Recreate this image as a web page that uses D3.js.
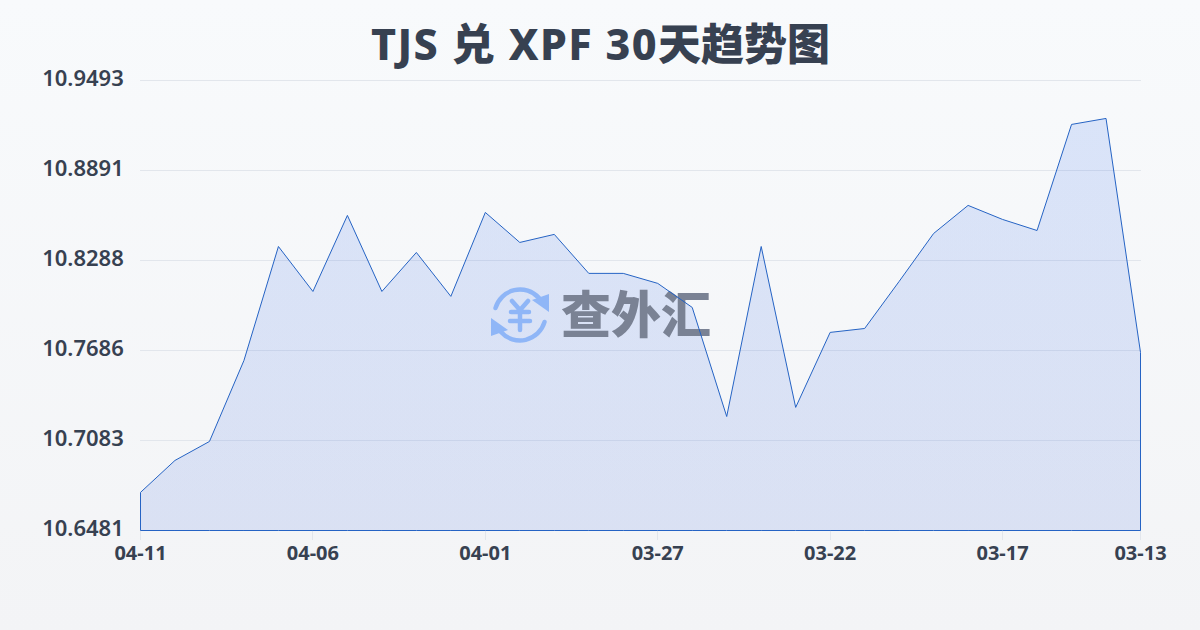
<!DOCTYPE html>
<html><head><meta charset="utf-8">
<script src="https://cdn.jsdelivr.net/npm/d3@7/dist/d3.min.js"></script>
<style>html,body{margin:0;padding:0;width:1200px;height:630px;overflow:hidden}svg{display:block}
text{font-family:"Noto Sans","Noto Sans CJK SC",sans-serif}</style></head><body>
<svg id="c" width="1200" height="630"></svg>
<script>
const titleLatin = "TJS 兑 XPF 30";
const titleCjk = "天趋势图";
const watermarkText = "查外汇";
const dates = ["04-11","04-10","04-09","04-08","04-07","04-06","04-05","04-04","04-03","04-02","04-01","03-31","03-30","03-29","03-28","03-27","03-26","03-25","03-24","03-23","03-22","03-21","03-20","03-19","03-18","03-17","03-16","03-15","03-14","03-13"];
const rates = [10.6736,10.6950,10.7077,10.7619,10.8382,10.8081,10.8590,10.8081,10.8342,10.8048,10.8610,10.8409,10.8463,10.8202,10.8202,10.8135,10.7974,10.7244,10.8382,10.7305,10.7807,10.7833,10.8148,10.8469,10.8657,10.8563,10.8489,10.9199,10.9239,10.7673];
const yTicks = [10.9493,10.8891,10.8288,10.7686,10.7083,10.6481];
const xTicks = ["04-11","04-06","04-01","03-27","03-22","03-17","03-13"];

const svg = d3.select("#c");
const defs = svg.append("defs");
const bg = defs.append("linearGradient").attr("id","bg").attr("x1",0).attr("y1",0).attr("x2",0).attr("y2",1);
bg.append("stop").attr("offset",0).attr("stop-color","#f8fafc");
bg.append("stop").attr("offset",1).attr("stop-color","#f3f4f6");
const fg = defs.append("linearGradient").attr("id","fill").attr("x1",0).attr("y1",0).attr("x2",0).attr("y2",1);
fg.append("stop").attr("offset",0).attr("stop-color","#2563eb").attr("stop-opacity",0.14);
fg.append("stop").attr("offset",1).attr("stop-color","#1d4ed8").attr("stop-opacity",0.12);

svg.append("rect").attr("width",1200).attr("height",630).attr("fill","url(#bg)");

const x = d3.scalePoint().domain(dates).range([140.5,1140.5]);
const y = d3.scaleLinear().domain([10.6481,10.9493]).range([530.5,80.5]);

// grid
svg.append("g").selectAll("line").data(yTicks).join("line")
  .attr("x1",140).attr("x2",1141).attr("y1",d=>Math.round(y(d)-0.5)+0.5).attr("y2",d=>Math.round(y(d)-0.5)+0.5)
  .attr("stroke","#e2e6ec").attr("stroke-width",1);
svg.append("g").selectAll("line").data(xTicks).join("line")
  .attr("x1",d=>Math.floor(x(d))+0.5).attr("x2",d=>Math.floor(x(d))+0.5).attr("y1",530).attr("y2",540)
  .attr("stroke","#e2e6ec").attr("stroke-width",1);

// area fill
const area = d3.area().x((d,i)=>x(dates[i])).y0(y(10.6481)).y1(d=>y(d));
svg.append("path").datum(rates).attr("d",area).attr("fill","url(#fill)");

// watermark
const wm = svg.append("g");
const icon = wm.append("g").attr("transform","translate(520,315)").attr("fill","none").attr("stroke","#8fb6f7").attr("stroke-linecap","round");
icon.append("path").attr("d","M-24.5,-7 A25.5,25.5 0 0 1 19,-17").attr("stroke-width",4.5);
icon.append("path").attr("d","M24.5,7 A25.5,25.5 0 0 1 -19,17").attr("stroke-width",4.5);
icon.append("path").attr("d","M12,-15 L29,-21 L29,-3 Z").attr("fill","#8fb6f7").attr("stroke","none");
icon.append("path").attr("d","M-12,15 L-29,21 L-29,3 Z").attr("fill","#8fb6f7").attr("stroke","none");
icon.append("path").attr("d","M-8,-14 L0,-5 L8,-14 M-9,-3 H9 M-10,6 H10 M0,-5 V15").attr("stroke-width",4.5);
wm.append("text").attr("x",636).attr("y",315).attr("dy","0.36em").attr("text-anchor","middle")
  .attr("font-size",50).attr("font-weight",900).attr("fill","#7a8294").text(watermarkText);

// outline
svg.append("path").datum(rates).attr("d",area).attr("fill","none").attr("stroke","#2563c4").attr("stroke-width",1);

// labels
svg.append("g").selectAll("text").data(yTicks).join("text")
  .attr("x",83).attr("y",d=>y(d)-2).attr("dy","0.36em").attr("text-anchor","middle")
  .attr("font-size",22).attr("font-weight",600).attr("fill","#374151").text(d=>d.toFixed(4));
svg.append("g").selectAll("text").data(xTicks).join("text")
  .attr("x",d=>x(d)).attr("y",553).attr("dy","0.36em").attr("text-anchor","middle")
  .attr("font-size",20).attr("font-weight",700).attr("fill","#374151").text(d=>d);
const title = svg.append("text").attr("x",600.5).attr("y",45).attr("dy","0.36em").attr("text-anchor","middle")
  .attr("font-size",43).attr("font-weight",800).attr("fill","#374151");
title.append("tspan").attr("letter-spacing",1.4).text(titleLatin);
title.append("tspan").text(titleCjk);
</script></body></html>
